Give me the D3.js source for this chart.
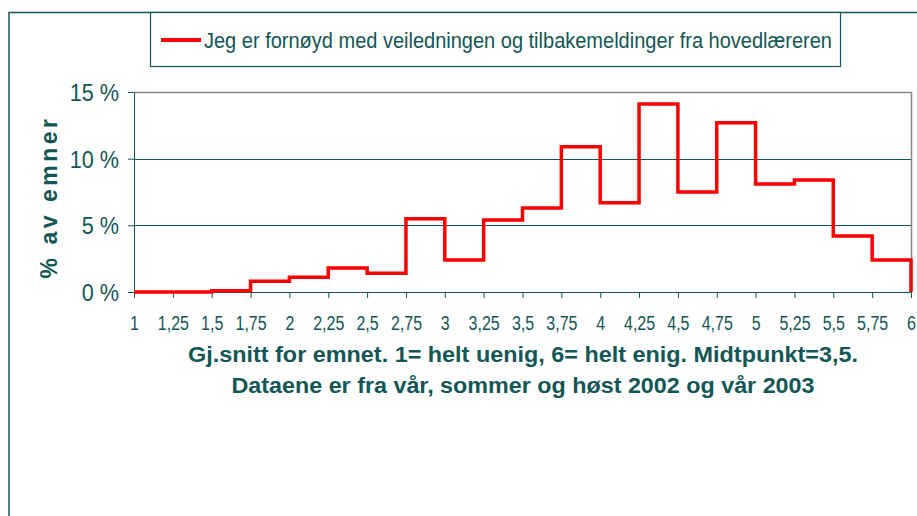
<!DOCTYPE html>
<html><head><meta charset="utf-8">
<script src="https://cdn.jsdelivr.net/npm/d3@7"></script>
<style>body{margin:0;background:#fff}svg{display:block}text{font-family:"Liberation Sans",Arial,sans-serif}</style>
</head><body>
<script>
const binStarts = [1,1.25,1.5,1.75,2,2.25,2.5,2.75,3,3.25,3.5,3.75,4,4.25,4.5,4.75,5,5.25,5.5,5.75];
const binValues = [0,0,0.1,0.8,1.1,1.8,1.4,5.5,2.4,5.4,6.3,10.9,6.7,14.1,7.5,12.7,8.1,8.4,4.2,2.4];
const xTickValues = [1,1.25,1.5,1.75,2,2.25,2.5,2.75,3,3.25,3.5,3.75,4,4.25,4.5,4.75,5,5.25,5.5,5.75,6];
const xTickLabels = ["1","1,25","1,5","1,75","2","2,25","2,5","2,75","3","3,25","3,5","3,75","4","4,25","4,5","4,75","5","5,25","5,5","5,75","6"];
const yTickValues = [0,5,10,15];
const yTickLabels = ["0 %","5 %","10 %","15 %"];
const seriesName = "Jeg er fornøyd med veiledningen og tilbakemeldinger fra hovedlæreren";
const yTitle = "% av emner";
const footLines = ["Gj.snitt for emnet. 1= helt uenig, 6= helt enig. Midtpunkt=3,5.","Dataene er fra vår, sommer og høst 2002 og vår 2003"];

const W=917,H=516, teal="#135656";
const svg=d3.select("body").append("svg").attr("width",W).attr("height",H);
function condense(sel,f){sel.each(function(){const L=this.getComputedTextLength();d3.select(this).attr("textLength",L*f).attr("lengthAdjust","spacingAndGlyphs");});}
// outer frame
svg.append("path").attr("d","M9,516 V12.5 H917").attr("fill","none").attr("stroke",teal).attr("stroke-width",1.5);

const x=d3.scaleLinear().domain([1,6]).range([134,911]);
const y=d3.scaleLinear().domain([0,15]).range([292,92]);

// gridlines
svg.append("g").selectAll("line").data([5,10]).join("line")
  .attr("x1",x(1)).attr("x2",x(6)).attr("y1",d=>Math.round(y(d))+0.5).attr("y2",d=>Math.round(y(d))+0.5)
  .attr("stroke",teal).attr("stroke-width",1);
// top & right frame grey
svg.append("path").attr("d",`M${x(1)},${y(15)+0.5} H${x(6)+0.5} V${y(0)}`).attr("fill","none").attr("stroke","#888").attr("stroke-width",1.5);

// x axis
const xa=svg.append("g").attr("transform",`translate(0,${y(0)})`)
  .call(d3.axisBottom(x).tickValues(xTickValues).tickFormat((d,i)=>xTickLabels[i]).tickSize(6).tickSizeOuter(0));
xa.select(".domain").attr("stroke",teal);
xa.selectAll(".tick line").attr("stroke",teal);
xa.selectAll(".tick text").attr("fill",teal).style("font-size","20px").attr("dy",null).attr("y",38).call(condense,0.8);

// y axis
const ya=svg.append("g").attr("transform",`translate(${x(1)},0)`)
  .call(d3.axisLeft(y).tickValues(yTickValues).tickFormat((d,i)=>yTickLabels[i]).tickSize(6).tickSizeOuter(0));
ya.select(".domain").attr("stroke",teal);
ya.selectAll(".tick line").attr("stroke",teal);
ya.selectAll(".tick text").attr("fill",teal).style("font-size","24px").attr("x",-15).attr("dy","0.36em").call(condense,0.9);

// y title
svg.append("text").attr("transform","translate(57,197) rotate(-90)").attr("text-anchor","middle")
  .attr("fill",teal).style("font-size","23px").style("font-weight","bold").style("letter-spacing","3.5px").text(yTitle);

// step line
const pts=binStarts.map((s,i)=>[s,binValues[i]]);
pts.push([6,binValues[binValues.length-1]]); pts.push([6,0]);
svg.append("path").datum(pts)
  .attr("d",d3.line().x(d=>x(d[0])).y(d=>y(d[1])).curve(d3.curveStepAfter))
  .attr("fill","none").attr("stroke","#ff0000").attr("stroke-width",3.5).attr("stroke-linejoin","miter");

// legend
svg.append("rect").attr("x",150.5).attr("y",12.5).attr("width",690).attr("height",54).attr("fill","#fff").attr("stroke",teal).attr("stroke-width",1.2);
svg.append("line").attr("x1",161).attr("x2",201).attr("y1",40).attr("y2",40).attr("stroke","#ff0000").attr("stroke-width",4);
svg.append("text").attr("x",204).attr("y",48).attr("fill",teal).style("font-size","22px")
  .attr("textLength",628).attr("lengthAdjust","spacingAndGlyphs").text(seriesName);

// footer
svg.append("text").attr("x",523).attr("y",362).attr("text-anchor","middle").attr("fill",teal)
  .style("font-size","22px").style("font-weight","bold").attr("textLength",670).attr("lengthAdjust","spacingAndGlyphs").text(footLines[0]);
svg.append("text").attr("x",523).attr("y",393).attr("text-anchor","middle").attr("fill",teal)
  .style("font-size","22px").style("font-weight","bold").attr("textLength",583).attr("lengthAdjust","spacingAndGlyphs").text(footLines[1]);
</script>
</body></html>
